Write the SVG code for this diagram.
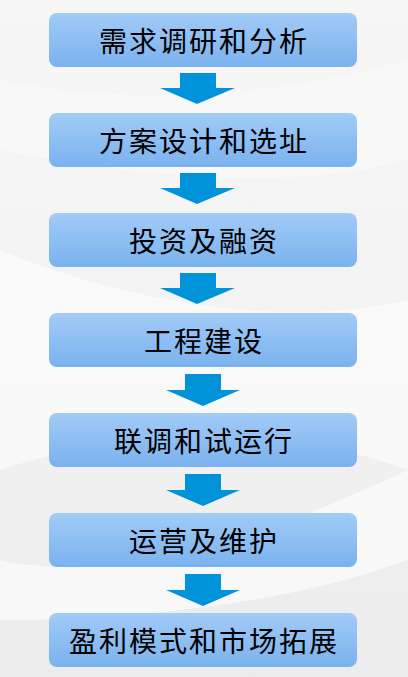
<svg xmlns="http://www.w3.org/2000/svg" width="408" height="677" viewBox="0 0 408 677">
  <defs>
    <linearGradient id="bg" x1="0" y1="0" x2="0" y2="1">
      <stop offset="0" stop-color="#f6f6f6"/>
      <stop offset="0.5" stop-color="#f3f3f3"/>
      <stop offset="1" stop-color="#ececec"/>
    </linearGradient>
    <linearGradient id="box" x1="0" y1="0" x2="0" y2="1">
      <stop offset="0" stop-color="#a2cbf7"/>
      <stop offset="1" stop-color="#7ab2ee"/>
    </linearGradient>
    <style>
      .box { fill: url(#box); }
      .lbl { font-family: "Noto Sans CJK SC", "Noto Sans", sans-serif; font-size: 28px; fill: #000000; text-anchor: middle; letter-spacing: 2px; dominant-baseline: central; }
      .arr { fill: #0093d9; }
    </style>
  </defs>
  <rect width="408" height="677" fill="url(#bg)"/>
  <path d="M0 250 C120 300 280 330 408 300 L408 470 C300 430 150 420 0 470 Z" fill="#ffffff" opacity="0.55"/>
  <path d="M0 560 C140 590 300 520 408 470 L408 560 C300 600 150 620 0 620 Z" fill="#ffffff" opacity="0.6"/>
  <path d="M0 80 C150 110 300 90 408 60 L408 160 C300 190 150 180 0 150 Z" fill="#ffffff" opacity="0.35"/>

  <g id="connectors">
    <polygon class="arr" points="180,73 216,73 216,88 235,88 197,104 160,88 180,88"/>
    <polygon class="arr" points="180,173 216,173 216,188 235,188 197,204 160,188 180,188"/>
    <polygon class="arr" points="180,273 216,273 216,288 235,288 197,304 160,288 180,288"/>
    <polygon class="arr" points="185,374 221,374 221,390 240,390 203,406 166,390 185,390"/>
    <polygon class="arr" points="185,474 221,474 221,490 240,490 203,506 166,490 185,490"/>
    <polygon class="arr" points="185,574 221,574 221,590 240,590 203,606 166,590 185,590"/>
  </g>

  <g id="n1"><rect class="box" x="49" y="13" width="308" height="54" rx="8"/><text class="lbl" x="204" y="40">需求调研和分析</text></g>
  <g id="n2"><rect class="box" x="49" y="113" width="308" height="54" rx="8"/><text class="lbl" x="204" y="140">方案设计和选址</text></g>
  <g id="n3"><rect class="box" x="49" y="213" width="308" height="54" rx="8"/><text class="lbl" x="204" y="240">投资及融资</text></g>
  <g id="n4"><rect class="box" x="49" y="313" width="308" height="54" rx="8"/><text class="lbl" x="204" y="340">工程建设</text></g>
  <g id="n5"><rect class="box" x="49" y="413" width="308" height="54" rx="8"/><text class="lbl" x="204" y="440">联调和试运行</text></g>
  <g id="n6"><rect class="box" x="49" y="513" width="308" height="54" rx="8"/><text class="lbl" x="204" y="540">运营及维护</text></g>
  <g id="n7"><rect class="box" x="49" y="613" width="308" height="54" rx="8"/><text class="lbl" x="204" y="640">盈利模式和市场拓展</text></g>
</svg>
